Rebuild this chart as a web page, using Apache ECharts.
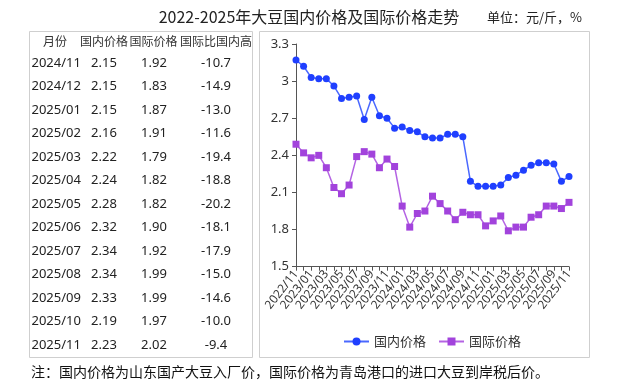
<!DOCTYPE html>
<html><head><meta charset="utf-8">
<script src="https://cdn.jsdelivr.net/npm/echarts@6/dist/echarts.min.js"></script>
<style>html,body{margin:0;padding:0;background:#fff}#c{width:620px;height:385px}</style>
</head><body><div id="c"></div>
<script>
const months = ['2022/11','2022/12','2023/01','2023/02','2023/03','2023/04','2023/05','2023/06','2023/07','2023/08','2023/09','2023/10','2023/11','2023/12','2024/01','2024/02','2024/03','2024/04','2024/05','2024/06','2024/07','2024/08','2024/09','2024/10','2024/11','2024/12','2025/01','2025/02','2025/03','2025/04','2025/05','2025/06','2025/07','2025/08','2025/09','2025/10','2025/11'];
const domestic = [3.17,3.12,3.03,3.02,3.02,2.96,2.86,2.87,2.88,2.69,2.87,2.72,2.70,2.62,2.63,2.60,2.59,2.55,2.54,2.54,2.57,2.57,2.55,2.19,2.15,2.15,2.15,2.16,2.22,2.24,2.28,2.32,2.34,2.34,2.33,2.19,2.23];
const international = [2.49,2.42,2.38,2.40,2.30,2.14,2.09,2.16,2.39,2.43,2.41,2.30,2.37,2.31,1.99,1.82,1.93,1.95,2.07,2.01,1.95,1.88,1.94,1.92,1.92,1.83,1.87,1.91,1.79,1.82,1.82,1.90,1.92,1.99,1.99,1.97,2.02];
const seriesNames = ['国内价格','国际价格'];
const yMin = 1.5, yMax = 3.3, yStep = 0.3;

const tableHeaders = ['月份','国内价格','国际价格','国际比国内高'];
const tableMonths = ['2024/11','2024/12','2025/01','2025/02','2025/03','2025/04','2025/05','2025/06','2025/07','2025/08','2025/09','2025/10','2025/11'];
const tableDomestic = ['2.15','2.15','2.15','2.16','2.22','2.24','2.28','2.32','2.34','2.34','2.33','2.19','2.23'];
const tableIntl = ['1.92','1.83','1.87','1.91','1.79','1.82','1.82','1.90','1.92','1.99','1.99','1.97','2.02'];
const tableDiff = ['-10.7','-14.9','-13.0','-11.6','-19.4','-18.8','-20.2','-18.1','-17.9','-15.0','-14.6','-10.0','-9.4'];

const titleText = '2022-2025年大豆国内价格及国际价格走势';
const unitText = '单位：元/斤，%';
const noteText = '注：国内价格为山东国产大豆入厂价，国际价格为青岛港口的进口大豆到岸税后价。';

const CJK = "'Noto Sans CJK SC', 'Noto Sans', sans-serif";
const NUM = "'Noto Sans', 'Noto Sans CJK SC', sans-serif";

function txt(x, y, text, size, align, color, family) {
  return {type:'text', x:x, y:y, silent:true,
    style:{text:text, fontSize:size, fontFamily:family||CJK, fill:color||'#222',
      align:align||'left', verticalAlign:'middle', textAlign:align||'left', textVerticalAlign:'middle'}};
}

const graphics = [];
graphics.push({type:'rect', shape:{x:29.5, y:31.5, width:223, height:326}, style:{fill:'none', stroke:'#cfcfcf', lineWidth:1}, silent:true});
graphics.push({type:'rect', shape:{x:259.5, y:31.5, width:330, height:326}, style:{fill:'none', stroke:'#cfcfcf', lineWidth:1}, silent:true});
graphics.push(txt(309, 17, titleText, 16, 'center', '#222'));
graphics.push(txt(487, 17, unitText, 13, 'left', '#222'));
graphics.push(txt(31, 372, noteText, 14, 'left', '#111'));
const headX = [55, 104, 153.5, 216];
tableHeaders.forEach((h, j) => graphics.push(txt(headX[j], 41, h, 12, 'center', '#333')));
const rowY0 = 63.3, rowH = 23.47;
tableMonths.forEach((m, i) => {
  const y = rowY0 + i * rowH;
  graphics.push(txt(31.5, y, m, 13, 'left', '#222', NUM));
  graphics.push(txt(104, y, tableDomestic[i], 13, 'center', '#222', NUM));
  graphics.push(txt(154, y, tableIntl[i], 13, 'center', '#222', NUM));
  graphics.push(txt(216, y, tableDiff[i], 13, 'center', '#222', NUM));
});

const chart = echarts.init(document.getElementById('c'), null, {renderer:'canvas'});
chart.setOption({
  animation:false,
  backgroundColor:'#fff',
  graphic:graphics,
  grid:{left:296, right:51, top:44, bottom:118.3, containLabel:false},
  legend:{left:338, top:330, itemWidth:25, itemHeight:10, itemGap:12,
    textStyle:{fontSize:13, color:'#333', fontFamily:CJK},
    data:seriesNames},
  xAxis:{type:'category', data:months, boundaryGap:false,
    axisLine:{lineStyle:{color:'#555'}},
    axisTick:{interval:0, length:4, lineStyle:{color:'#555'}},
    axisLabel:{interval:1, rotate:52, fontSize:12, color:'#333', margin:5, fontFamily:NUM}},
  yAxis:{type:'value', min:yMin, max:yMax, interval:yStep,
    axisLine:{show:true, lineStyle:{color:'#555'}},
    axisTick:{show:true, length:4, lineStyle:{color:'#555'}},
    splitLine:{show:false},
    axisLabel:{fontSize:13, color:'#333', margin:7, fontFamily:NUM}},
  series:[
    {name:seriesNames[0], type:'line', data:domestic, symbol:'circle', symbolSize:7, showAllSymbol:true,
      itemStyle:{color:'#1f3fff'}, lineStyle:{color:'#4a68ff', width:1.5}},
    {name:seriesNames[1], type:'line', data:international, symbol:'rect', symbolSize:7, showAllSymbol:true,
      itemStyle:{color:'#a243dc'}, lineStyle:{color:'#b463e3', width:1.5}}
  ]
});
</script></body></html>
